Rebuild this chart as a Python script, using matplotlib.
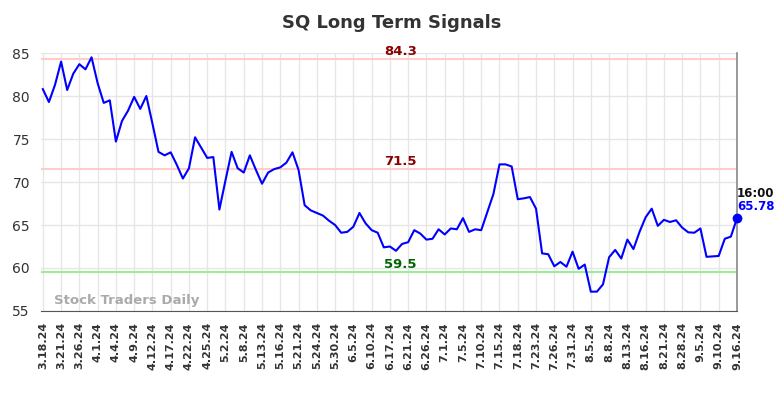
import numpy as np
import matplotlib
matplotlib.use("Agg")
import matplotlib.pyplot as plt

# Tick labels (one every 3rd point)
dates = ['3.18.24', '3.21.24', '3.26.24', '4.1.24', '4.4.24', '4.9.24', '4.12.24',
         '4.17.24', '4.22.24', '4.25.24', '5.2.24', '5.8.24', '5.13.24', '5.16.24',
         '5.21.24', '5.24.24', '5.30.24', '6.5.24', '6.10.24', '6.17.24', '6.21.24',
         '6.26.24', '7.1.24', '7.5.24', '7.10.24', '7.15.24', '7.18.24', '7.23.24',
         '7.26.24', '7.31.24', '8.5.24', '8.8.24', '8.13.24', '8.16.24', '8.21.24',
         '8.28.24', '9.5.24', '9.10.24', '9.16.24']

# Signal values
values = [80.8, 79.3, 81.3, 84.0, 80.7, 82.6, 83.7, 83.1, 84.5, 81.5,
          79.2, 79.5, 74.7, 77.1, 78.3, 79.9, 78.5, 80.0, 76.8, 73.5,
          73.1, 73.45, 72.0, 70.4, 71.6, 75.2, 74.0, 72.8, 72.9, 66.8,
          70.2, 73.5, 71.6, 71.1, 73.1, 71.4, 69.8, 71.1, 71.5, 71.7,
          72.25, 73.45, 71.4, 67.3, 66.7, 66.4, 66.1, 65.5, 65.0, 64.1,
          64.2, 64.8, 66.4, 65.2, 64.4, 64.1, 62.4, 62.5, 62.0, 62.8,
          63.0, 64.4, 64.0, 63.3, 63.4, 64.5, 63.9, 64.6, 64.5, 65.8,
          64.2, 64.5, 64.4, 66.5, 68.6, 72.05, 72.05, 71.8, 68.0, 68.1,
          68.25, 66.9, 61.7, 61.6, 60.2, 60.7, 60.15, 61.9, 59.9, 60.4,
          57.25, 57.25, 58.1, 61.25, 62.1, 61.1, 63.3, 62.2, 64.2, 65.9,
          66.9, 64.9, 65.6, 65.35, 65.55, 64.7, 64.15, 64.1, 64.6, 61.3,
          61.35, 61.4, 63.4, 63.65, 65.78]

# Signal levels
levels = [84.3, 71.5, 59.5]
level_line_colors = ['#ffcccc', '#ffcccc', '#99ee99']
level_text_colors = ['#8b0000', '#8b0000', '#006400']

last_time = '16:00'

x = np.arange(len(values))
tick_pos = np.arange(0, len(values), 3)

fig = plt.figure(figsize=(7.84, 3.98), dpi=100)
ax = fig.add_axes([0.0523, 0.2186, 0.8877, 0.6482])

for lv, lc, tc in zip(levels, level_line_colors, level_text_colors):
    ax.axhline(lv, color=lc, lw=1.5, zorder=1)
    ax.text(len(values) / 2 + 1.2, lv + 0.1, f'{lv}', color=tc, fontsize=9.5,
            fontweight='bold', ha='center', va='bottom', zorder=3)

ax.plot(x, values, color='#0000ff', lw=1.5, zorder=4)
ax.plot(x[-1], values[-1], 'o', color='#0000ff', ms=6, zorder=5, clip_on=False)
ax.text(x[-1], values[-1] + 2.1, last_time, fontsize=8.5, fontweight='bold',
        color='#111111', ha='left', va='bottom')
ax.text(x[-1], values[-1] + 0.65, f'{values[-1]:.2f}', fontsize=8.5, fontweight='bold',
        color='#0000ff', ha='left', va='bottom')

ax.set_xlim(-0.3, len(values) - 1)
ax.set_ylim(55, 85)
ax.set_yticks([55, 60, 65, 70, 75, 80, 85])
ax.set_xticks(tick_pos)
ax.set_xticklabels(dates, rotation=90, fontsize=8, fontweight='bold', color='#333333')
ax.tick_params(axis='y', labelsize=10, colors='#333333', length=0, pad=8)
ax.tick_params(axis='x', length=0, pad=8)
ax.grid(True, color='#e6e6e6', lw=1, zorder=0)
ax.set_axisbelow(True)

for s in ['top', 'left']:
    ax.spines[s].set_visible(False)
ax.spines['bottom'].set_color('#555555')
ax.spines['right'].set_color('#888888')
ax.spines['right'].set_linewidth(1.2)

ax.text(0.019, 0.015, 'Stock Traders Daily', transform=ax.transAxes, fontsize=9.5,
        fontweight='bold', color='#aaaaaa', ha='left', va='bottom')

fig.suptitle('SQ Long Term Signals', x=0.5, y=0.965, fontsize=13,
             fontweight='bold', color='#333333')

fig.savefig('out.png', dpi=100)
